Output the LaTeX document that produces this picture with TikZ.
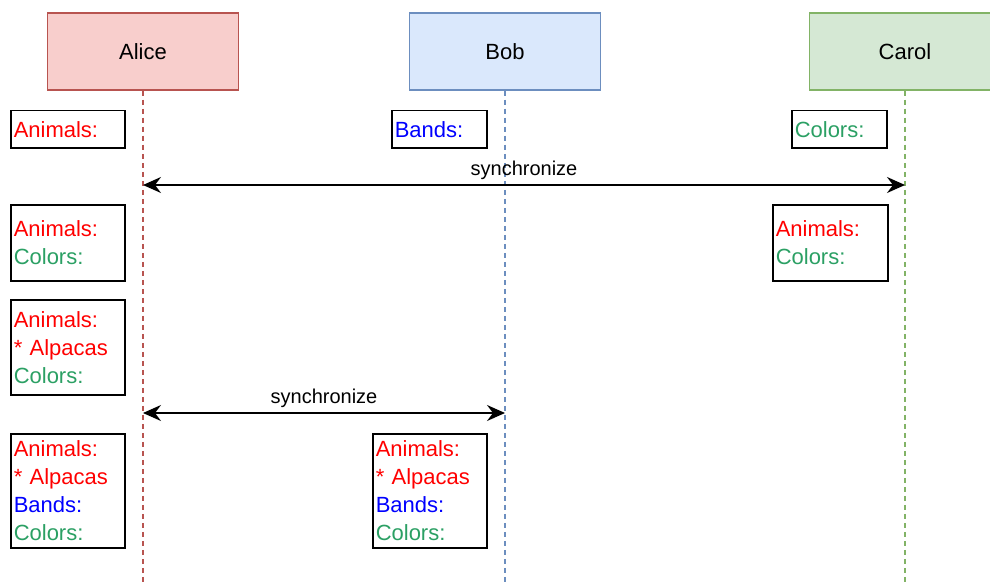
\documentclass[tikz,border=0pt]{standalone}
\usepackage{fontspec}
\setmainfont{Liberation Sans}
\usetikzlibrary{arrows.meta, positioning}
\definecolor{alicefill}{HTML}{F8CECC}
\definecolor{aliceline}{HTML}{B85450}
\definecolor{bobfill}{HTML}{DAE8FC}
\definecolor{bobline}{HTML}{6C8EBF}
\definecolor{carolfill}{HTML}{D5E8D4}
\definecolor{carolline}{HTML}{82B366}
\definecolor{animred}{HTML}{FF0000}
\definecolor{bandblue}{HTML}{0000FF}
\definecolor{colgreen}{RGB}{43,160,100}
\newcommand{\animals}{\textcolor{animred}{Animals:}}
\newcommand{\alpacas}{\textcolor{animred}{* Alpacas}}
\newcommand{\bands}{\textcolor{bandblue}{Bands:}}
\newcommand{\colors}{\textcolor{colgreen}{Colors:}}

\begin{document}
\begin{tikzpicture}[x=1pt, y=-1pt,
		>={Stealth[length=18pt, width=16pt, inset=6pt]},
		actor/.style={
			rectangle,
			line width=1.5pt,
			minimum width=191pt,
			minimum height=77pt,
			font=\fontsize{22}{26}\selectfont},
		lifeline/.style={line width=1.6pt, dash pattern=on 5pt off 4pt},
		statebox/.style={
			rectangle,
			draw=black, line width=1.5pt,
			fill=white,
			anchor=north west,
			inner sep=3pt,
			align=left,
			font=\fontsize{22}{28}\selectfont},
		sync/.style={line width=1.6pt, <->},
		synclabel/.style={font=\fontsize{20}{24}\selectfont, above=1pt}]
		\useasboundingbox (0,0) rectangle (990,583);
		% actors
		\node[actor, draw=aliceline, fill=alicefill] (alice) at (143,51.5) {Alice};
		\node[actor, draw=bobline, fill=bobfill] (bob) at (505,51.5) {Bob};
		\node[actor, draw=carolline, fill=carolfill] (carol) at (905,51.5) {Carol};
		% lifelines
		\coordinate (aliceend) at (143,583);
		\coordinate (bobend) at (505,583);
		\coordinate (carolend) at (905,583);
		\draw[lifeline, aliceline] (alice) -- (aliceend);
		\draw[lifeline, bobline] (bob) -- (bobend);
		\draw[lifeline, carolline] (carol) -- (carolend);
		% initial states
		\node[statebox, text width=108pt, minimum height=37pt] (a1) at (10,110) {\animals};
		\node[statebox, text width=89pt, minimum height=37pt] (b1) at (391,110) {\bands};
		\node[statebox, text width=89pt, minimum height=37pt] (c1) at (791,110) {\colors};
		% first sync
		\coordinate (async1) at (143,185);
		\coordinate (csync1) at (905,185);
		\draw[sync] (async1) -- node[synclabel] (s1) {synchronize} (csync1);
		\node[statebox, text width=108pt, minimum height=76pt] (a2) at (10,204) {\animals\\\colors};
		\node[statebox, text width=109pt, minimum height=76pt] (c2) at (772,204) {\animals\\\colors};
		\node[statebox, text width=108pt, minimum height=95pt] (a3) at (10,299) {\animals\\\alpacas\\\colors};
		% second sync
		\coordinate (async2) at (143,413);
		\coordinate (bsync2) at (505,413);
		\draw[sync] (async2) -- node[synclabel] (s2) {synchronize} (bsync2);
		\node[statebox, text width=108pt, minimum height=114pt] (a4) at (10,433) {\animals\\\alpacas\\\bands\\\colors};
		\node[statebox, text width=108pt, minimum height=114pt] (b4) at (372,433) {\animals\\\alpacas\\\bands\\\colors};
\end{tikzpicture}
\end{document}
